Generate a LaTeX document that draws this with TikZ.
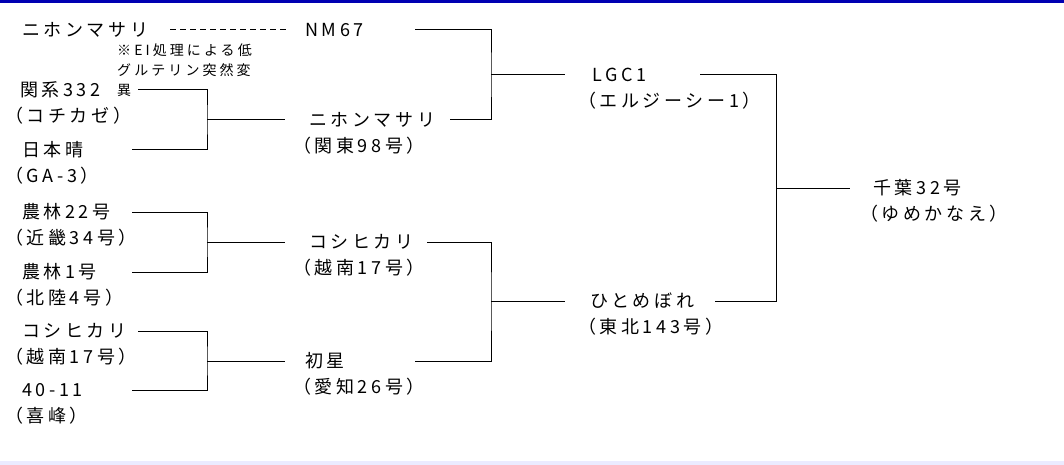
\documentclass[tikz,border=0pt]{standalone}
\usepackage{fontspec}
\setmainfont{Noto Sans CJK JP}
\begin{document}
\begin{tikzpicture}[x=1pt,y=-1pt,
  t/.style={anchor=west,inner sep=0pt,font=\fontsize{18}{20}\selectfont\addfontfeature{LetterSpace=20}},
  s/.style={anchor=west,inner sep=0pt,font=\fontsize{14}{16}\selectfont\addfontfeature{LetterSpace=22}},
  ln/.style={line width=1pt,black}]
\useasboundingbox (0,0) rectangle (1064,465);
\fill[blue!70!black] (0,0) rectangle (1064,3);
\fill[blue!8] (0,461) rectangle (1064,465);
% column 1
\node[t] (a1) at (22,30) {ニホンマサリ};
\node[t] (nm) at (305,30) {NM67};
\node[s] (n1) at (117,50) {※EI処理による低};
\node[s] (n2) at (117,70) {グルテリン突然変};
\node[s] (n3) at (117,90) {異};
\node[t] (b1) at (20,90) {関系332};
\node[t] (b1p) at (5,116) {（コチカゼ）};
\node[t] (b2) at (22,150) {日本晴};
\node[t] (b2p) at (5,176) {（GA-3）};
\node[t] (c1) at (22,212) {農林22号};
\node[t] (c1p) at (5,238) {（近畿34号）};
\node[t] (c2) at (22,272) {農林1号};
\node[t] (c2p) at (5,298) {（北陸4号）};
\node[t] (d1) at (22,331) {コシヒカリ};
\node[t] (d1p) at (5,357) {（越南17号）};
\node[t] (d2) at (22,390) {40-11};
\node[t] (d2p) at (5,416) {（喜峰）};
% column 2
\node[t] (e1) at (309,120) {ニホンマサリ};
\node[t] (e1p) at (293,146) {（関東98号）};
\node[t] (e2) at (309,242) {コシヒカリ};
\node[t] (e2p) at (293,268) {（越南17号）};
\node[t] (e3) at (305,361) {初星};
\node[t] (e3p) at (293,387) {（愛知26号）};
% column 3
\node[t] (f1) at (592,75) {LGC1};
\node[t] (f1p) at (578,101) {（エルジーシー1）};
\node[t] (f2) at (590,301) {ひとめぼれ};
\node[t] (f2p) at (578,327) {（東北143号）};
% final
\node[t] (g) at (873,188) {千葉32号};
\node[t] (gp) at (860,214) {（ゆめかなえ）};
% connectors
\coordinate (dA) at (170,30); \coordinate (dB) at (286,30);
\draw[line width=1pt,dash pattern=on 6pt off 4pt] (dA) -- (dB);
\coordinate (j1) at (207,120); \coordinate (k1) at (285,120);
\draw[ln] (138,90) -| (j1) |- (132,150); \draw[ln] (j1) -- (k1);
\coordinate (j2) at (207,242); \coordinate (k2) at (285,242);
\draw[ln] (132,212) -| (j2) |- (132,272); \draw[ln] (j2) -- (k2);
\coordinate (j3) at (207,361); \coordinate (k3) at (285,361);
\draw[ln] (138,331) -| (j3) |- (132,390); \draw[ln] (j3) -- (k3);
\coordinate (j4) at (491,75); \coordinate (k4) at (565,75);
\draw[ln] (415,30) -| (j4) |- (450,120); \draw[ln] (j4) -- (k4);
\coordinate (j5) at (491,301); \coordinate (k5) at (565,301);
\draw[ln] (427,242) -| (j5) |- (415,361); \draw[ln] (j5) -- (k5);
\coordinate (j6) at (776,188); \coordinate (k6) at (850,188);
\draw[ln] (700,75) -| (j6) |- (715,301); \draw[ln] (j6) -- (k6);
\end{tikzpicture}
\end{document}
